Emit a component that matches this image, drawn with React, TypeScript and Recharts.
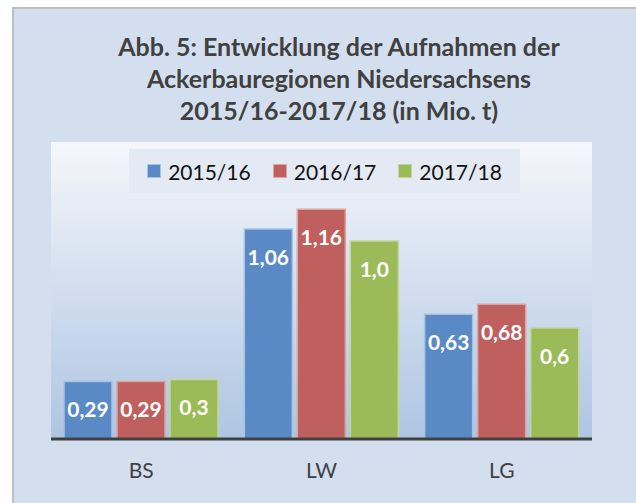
import React from "react";
import { BarChart, Bar, XAxis, YAxis, CartesianGrid, Legend, LabelList } from "recharts";

const categories = ["BS", "LW", "LG"];
const series2015 = [0.29, 1.06, 0.63];
const series2016 = [0.29, 1.16, 0.68];
const series2017 = [0.3, 1.0, 0.56];
const seriesNames = ["2015/16", "2016/17", "2017/18"];
const seriesDecimals = [2, 2, 1];
const titleLines = [
  "Abb. 5: Entwicklung der Aufnahmen der",
  "Ackerbauregionen Niedersachsens",
  "2015/16-2017/18 (in Mio. t)",
];

const data = categories.map((c, i) => ({
  name: c,
  s0: series2015[i],
  s1: series2016[i],
  s2: series2017[i],
}));

const colors = ["#5a8ac6", "#c0605e", "#9bbb59"];
const strokes = ["#a9c2e2", "#dba4a3", "#c2d69c"];
const FONT = "Lato, 'Open Sans', sans-serif";

const fmt = (v: number, d: number) => v.toFixed(d).replace(".", ",");

const makeLabel = (d: number) => (props: any) => {
  const { x, y, width, value } = props;
  return (
    <text
      x={x + width / 2}
      y={y + 27}
      textAnchor="middle"
      dominantBaseline="central"
      fill="#ffffff"
      fontFamily={FONT}
      fontWeight={700}
      fontSize={21}
    >
      {fmt(value, d)}
    </text>
  );
};

const renderLegend = (props: any) => {
  const { payload } = props;
  return (
    <div
      style={{
        display: "flex",
        justifyContent: "center",
        alignItems: "center",
        height: 44,
        background: "#e4eaf4",
        fontFamily: FONT,
        fontSize: 21,
        color: "#111",
      }}
    >
      {payload.map((p: any, i: number) => (
        <div key={i} style={{ display: "flex", alignItems: "center", marginRight: i < payload.length - 1 ? 22 : 0 }}>
          <span
            style={{
              display: "inline-block",
              width: 12,
              height: 12,
              background: p.color,
              border: `1px solid ${strokes[i]}`,
              marginRight: 7,
            }}
          />
          <span>{p.value}</span>
        </div>
      ))}
    </div>
  );
};

export default function App() {
  return (
    <div style={{ position: "absolute", left: 0, top: 0, width: 636, height: 503, overflow: "hidden", background: "#fff" }}>
      <svg width="0" height="0" style={{ position: "absolute" }}>
        <defs>
          <linearGradient id="plotGrad" x1="0" y1="0" x2="0" y2="1">
            <stop offset="0%" stopColor="#f5f7fb" />
            <stop offset="100%" stopColor="#aec5e2" />
          </linearGradient>
        </defs>
      </svg>
      <div
        style={{
          position: "absolute",
          left: 12,
          top: 7,
          width: 640,
          height: 510,
          background: "#d3dfee",
          borderTop: "2px solid #bfbfbf",
          borderLeft: "2px solid #bfbfbf",
          boxSizing: "border-box",
        }}
      />
      <div
        style={{
          position: "absolute",
          left: 0,
          top: 30,
          width: 678,
          textAlign: "center",
          fontFamily: FONT,
          fontWeight: 700,
          fontSize: 25,
          lineHeight: "32px",
          color: "#404040",
        }}
      >
        {titleLines.map((l, i) => (
          <div key={i}>{l}</div>
        ))}
      </div>
      <div style={{ position: "absolute", left: 0, top: 0 }}>
        <BarChart
          width={636}
          height={503}
          data={data}
          margin={{ top: 142, right: 44, bottom: 34, left: 51 }}
          barGap={5}
          barSize={48}
        >
          <CartesianGrid fill="url(#plotGrad)" stroke="none" horizontal={false} vertical={false} />
          <YAxis hide domain={[0, 1.5]} />
          <XAxis
            dataKey="name"
            height={30}
            axisLine={{ stroke: "#404040", strokeWidth: 3 }}
            tickLine={false}
            tickMargin={18}
            tick={{ fill: "#404040", fontSize: 21, fontFamily: FONT }}
          />
          <Legend
            layout="horizontal"
            verticalAlign="middle"
            align="center"
            content={renderLegend}
            wrapperStyle={{ position: "absolute", left: 129, top: 149, width: 391, height: 44 }}
          />
          {["s0", "s1", "s2"].map((k, i) => (
            <Bar
              key={k}
              dataKey={k}
              name={seriesNames[i]}
              fill={colors[i]}
              stroke={strokes[i]}
              strokeWidth={1.5}
              isAnimationActive={false}
            >
              <LabelList dataKey={k} content={makeLabel(seriesDecimals[i])} />
            </Bar>
          ))}
        </BarChart>
      </div>
    </div>
  );
}
